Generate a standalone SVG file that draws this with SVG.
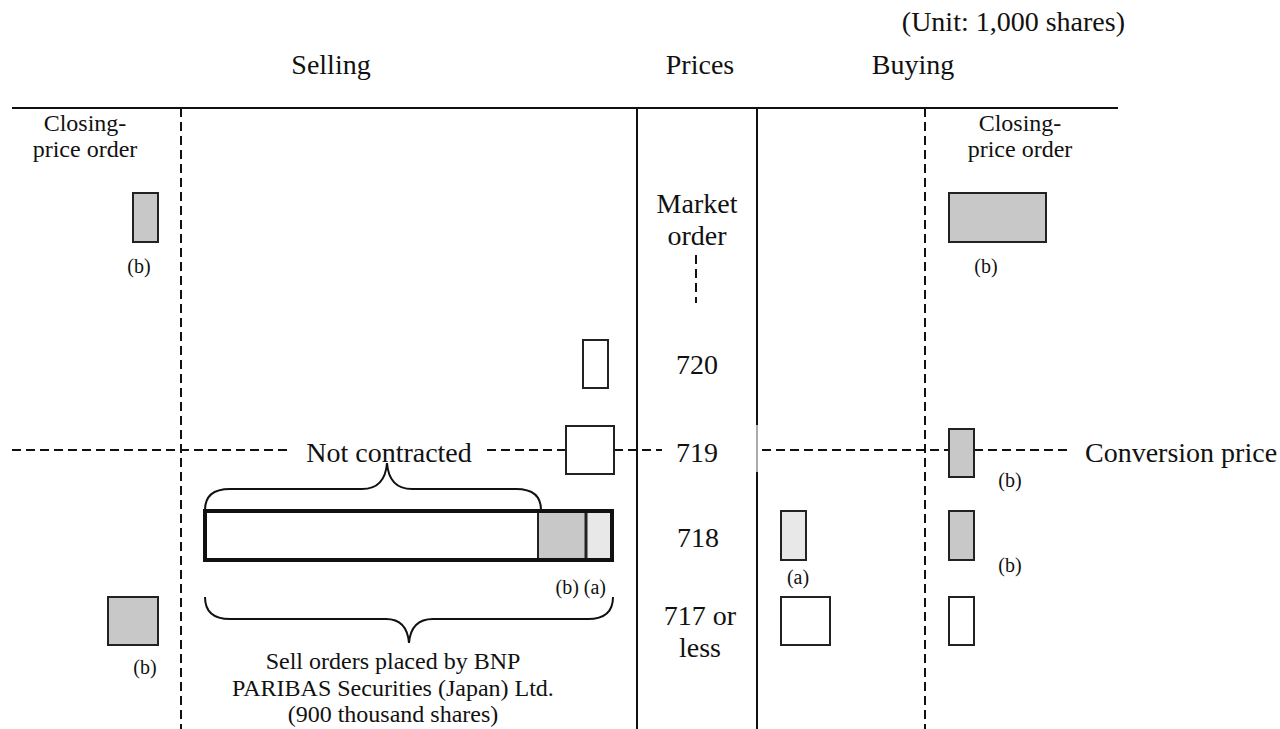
<svg xmlns="http://www.w3.org/2000/svg" width="1280" height="729" viewBox="0 0 1280 729">
<style>
text{font-family:"Liberation Serif","Times New Roman",serif;fill:#111}
.h{font-size:28px}
.m{font-size:28px}
.s{font-size:24px}
.l{font-size:20px}
.c{text-anchor:middle}
.solid{stroke:#111;stroke-width:2;fill:none}
.dash{stroke:#111;stroke-width:2;stroke-dasharray:9 5;fill:none}
.box{stroke:#222;stroke-width:2}
.g{fill:#c8c8c8}
.lg{fill:#e8e8e8}
.w{fill:#fff}
.brace{stroke:#111;stroke-width:2;fill:none}
</style>
<rect width="1280" height="729" fill="#fff"/>
<g id="connectors">
<line class="solid" x1="12" y1="108" x2="1118" y2="108"/>
<line class="dash" x1="181" y1="108" x2="181" y2="729"/>
<line class="solid" x1="637" y1="108" x2="637" y2="729"/>
<line class="solid" x1="757" y1="108" x2="757" y2="425"/>
<line x1="757" y1="425" x2="757" y2="472" stroke="#aaa" stroke-width="2"/>
<line class="solid" x1="757" y1="472" x2="757" y2="729"/>
<line class="dash" x1="925" y1="108" x2="925" y2="729"/>
<line class="dash" x1="696" y1="255" x2="696" y2="303"/>
<line class="dash" x1="12" y1="450" x2="290" y2="450"/>
<line class="dash" x1="487" y1="450" x2="566" y2="450"/>
<line class="dash" x1="614" y1="450" x2="662" y2="450"/>
<line class="dash" x1="762" y1="450" x2="949" y2="450"/>
<line class="dash" x1="974" y1="450" x2="1072" y2="450"/>
<path class="brace" d="M205,510 Q205,489 230,489 L362,489 Q385,489 387,463 Q389,489 412,489 L516,489 Q541,489 541,510"/>
<path class="brace" d="M205,597 Q205,619 230,619 L386,619 Q407,619 409,643 Q411,619 433,619 L588,619 Q613,619 613,597"/>
</g>
<g id="headers">
<text class="h" x="1125" y="31" text-anchor="end">(Unit: 1,000 shares)</text>
<text class="h c" x="331" y="74">Selling</text>
<text class="h c" x="700" y="74">Prices</text>
<text class="h c" x="913" y="74">Buying</text>
</g>
<g id="sell-closing">
<text class="s c" x="85" y="131">Closing-</text>
<text class="s c" x="85" y="157">price order</text>
<rect class="box g" x="133" y="193" width="25" height="49"/>
<text class="l c" x="139" y="273">(b)</text>
</g>
<g id="buy-closing">
<text class="s c" x="1020" y="131">Closing-</text>
<text class="s c" x="1020" y="157">price order</text>
<rect class="box g" x="949" y="193" width="97" height="49"/>
<text class="l c" x="986" y="273">(b)</text>
</g>
<g id="price-market">
<text class="m c" x="697" y="213">Market</text>
<text class="m c" x="697" y="245">order</text>
</g>
<g id="price-720">
<text class="m c" x="697" y="374">720</text>
<rect class="box w" x="583" y="340" width="25" height="48"/>
</g>
<g id="price-719">
<text class="m c" x="697" y="462">719</text>
<rect class="box w" x="566" y="426" width="48" height="48"/>
<text class="m c" x="389" y="462">Not contracted</text>
<rect class="box g" x="949" y="429" width="25" height="48"/>
<text class="l c" x="1010" y="487">(b)</text>
<text class="m" x="1085" y="462">Conversion price</text>
</g>
<g id="price-718">
<text class="m c" x="698" y="547">718</text>
<rect class="w" x="205" y="511" width="333" height="49"/>
<rect class="g" x="538" y="511" width="48" height="49"/>
<rect class="lg" x="586" y="511" width="26" height="49"/>
<line x1="538" y1="511" x2="538" y2="560" stroke="#222" stroke-width="2"/>
<line x1="586" y1="511" x2="586" y2="560" stroke="#222" stroke-width="3"/>
<rect x="205" y="511" width="407" height="49" fill="none" stroke="#111" stroke-width="4"/>
<text class="l" x="606" y="594" text-anchor="end">(b) (a)</text>
<rect class="box lg" x="781" y="511" width="25" height="49"/>
<text class="l c" x="798" y="584">(a)</text>
<rect class="box g" x="949" y="511" width="25" height="49"/>
<text class="l c" x="1010" y="572">(b)</text>
</g>
<g id="price-717">
<text class="m c" x="700" y="625">717 or</text>
<text class="m c" x="700" y="657">less</text>
<rect class="box g" x="108" y="597" width="50" height="48"/>
<text class="l c" x="145" y="674">(b)</text>
<rect class="box w" x="781" y="597" width="49" height="48"/>
<rect class="box w" x="949" y="597" width="25" height="48"/>
<text class="s c" x="393" y="669">Sell orders placed by BNP</text>
<text class="s c" x="393" y="696">PARIBAS Securities (Japan) Ltd.</text>
<text class="s c" x="393" y="722">(900 thousand shares)</text>
</g>
</svg>
